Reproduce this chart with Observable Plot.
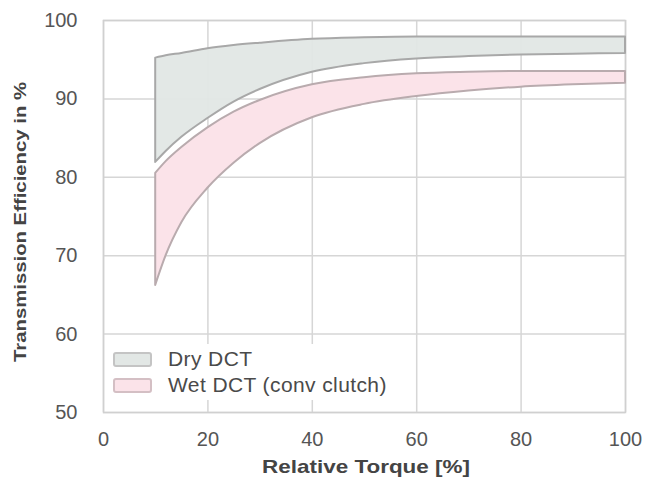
<!DOCTYPE html>
<html>
<head>
<meta charset="utf-8">
<script src="https://cdn.jsdelivr.net/npm/d3@7"></script>
<script src="https://cdn.jsdelivr.net/npm/@observablehq/plot@0.6"></script>
<style>
  html, body { margin: 0; padding: 0; background: #fff; }
  #wrap { position: relative; width: 646px; height: 487px; font-family: "Liberation Sans", Arial, sans-serif; }
  #legend { position: absolute; left: 109px; top: 344px; background: #fff; padding: 2px 8px 2px 4px; }
  .row { display: flex; align-items: center; height: 26px; font-size: 21px; letter-spacing: 0.4px; color: #4a4a4a; }
  .sw { width: 39px; height: 15px; border-radius: 3px; margin-right: 16px; box-sizing: border-box; }
</style>
</head>
<body>
<div id="wrap"></div>
<script>
const torque   = [10, 12, 15, 20, 25, 30, 40, 50, 60, 70, 80, 90, 100];
const dryUpper = [95.2, 95.5, 95.8, 96.4, 96.8, 97.1, 97.6, 97.8, 97.9, 97.9, 97.9, 97.9, 97.9];
const dryLower = [81.9, 83.3, 85.1, 87.5, 89.6, 91.2, 93.4, 94.5, 95.1, 95.4, 95.6, 95.7, 95.8];
const wetUpper = [80.5, 82.0, 83.8, 86.3, 88.3, 89.8, 91.8, 92.7, 93.2, 93.4, 93.5, 93.5, 93.5];
const wetLower = [66.2, 70.0, 74.2, 78.6, 81.8, 84.3, 87.6, 89.3, 90.3, 91.0, 91.5, 91.8, 92.0];
const xTicks = [0, 20, 40, 60, 80, 100];
const yTicks = [50, 60, 70, 80, 90, 100];
const seriesNames = ["Dry DCT", "Wet DCT (conv clutch)"];

const dry = torque.map((t, i) => ({x: t, lo: dryLower[i], hi: dryUpper[i]}));
const wet = torque.map((t, i) => ({x: t, lo: wetLower[i], hi: wetUpper[i]}));

const colors = {
  dryFill: "#e2e7e5", dryStroke: "#a8a8a8",
  wetFill: "#fbe3e9", wetStroke: "#b9abae"
};

const chart = Plot.plot({
  width: 646,
  height: 487,
  marginLeft: 103,
  marginRight: 21,
  marginTop: 20,
  marginBottom: 75,
  style: {fontFamily: "Liberation Sans, Arial, sans-serif", fontSize: "20px", color: "#555", background: "#fff"},
  x: {domain: [0, 100], ticks: xTicks, tickSize: 0, tickPadding: 20, label: null},
  y: {domain: [50, 100], ticks: yTicks, tickSize: 0, tickPadding: 26, label: null},
  marks: [
    Plot.gridX(xTicks, {stroke: "#d6d6d6", strokeOpacity: 1, strokeWidth: 1.5}),
    Plot.gridY(yTicks, {stroke: "#d6d6d6", strokeOpacity: 1, strokeWidth: 1.5}),
    Plot.frame({stroke: "#d0d0d0", strokeWidth: 1.5}),
    Plot.areaY(wet, {x: "x", y1: "lo", y2: "hi", fill: colors.wetFill, stroke: colors.wetStroke, strokeWidth: 2, curve: "monotone-x"}),
    Plot.areaY(dry, {x: "x", y1: "lo", y2: "hi", fill: colors.dryFill, fillOpacity: 0.95, stroke: colors.dryStroke, strokeWidth: 2, curve: "monotone-x"}),
    Plot.axisX({ticks: xTicks, tickSize: 0, tickPadding: 19, fontSize: 20, fill: "#555", label: null}),
    Plot.axisY({ticks: yTicks, tickSize: 0, tickPadding: 26, fontSize: 20, fill: "#555", label: null})
  ]
});

const svg = d3.select(chart);
svg.append("text")
  .attr("x", 366).attr("y", 473)
  .attr("text-anchor", "middle")
  .attr("font-size", 19).attr("font-weight", "bold").attr("fill", "#444")
  .attr("textLength", 208).attr("lengthAdjust", "spacingAndGlyphs")
  .text("Relative Torque [%]");
svg.append("text")
  .attr("transform", "translate(26,222) rotate(-90)")
  .attr("text-anchor", "middle")
  .attr("font-size", 16).attr("font-weight", "bold").attr("fill", "#444")
  .attr("textLength", 280).attr("lengthAdjust", "spacingAndGlyphs")
  .text("Transmission Efficiency in %");

const wrap = document.getElementById("wrap");
wrap.appendChild(chart);

const legend = document.createElement("div");
legend.id = "legend";
const legendStyles = [
  {fill: colors.dryFill, stroke: "#c4c4c4"},
  {fill: colors.wetFill, stroke: "#d4bfc4"}
];
seriesNames.forEach((name, i) => {
  const row = document.createElement("div");
  row.className = "row";
  const sw = document.createElement("div");
  sw.className = "sw";
  sw.style.background = legendStyles[i].fill;
  sw.style.border = "2.5px solid " + legendStyles[i].stroke;
  const label = document.createElement("span");
  label.textContent = name;
  row.appendChild(sw);
  row.appendChild(label);
  legend.appendChild(row);
});
wrap.appendChild(legend);
</script>
</body>
</html>
